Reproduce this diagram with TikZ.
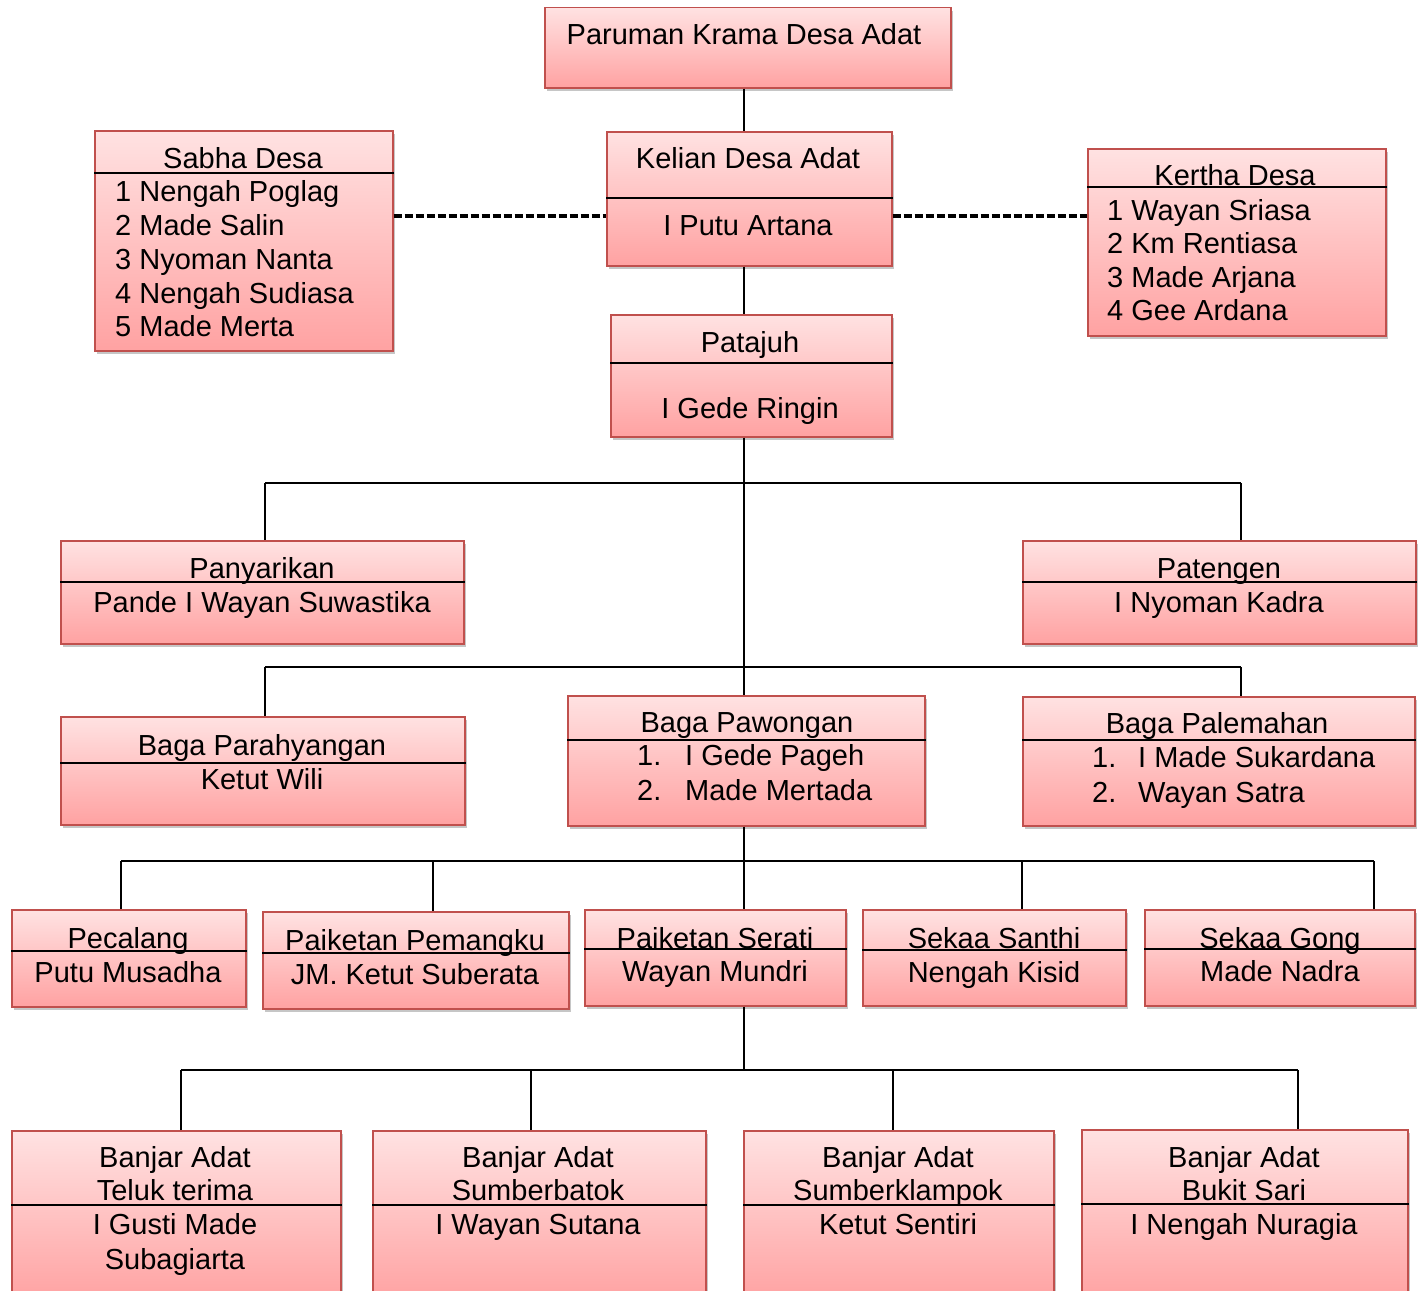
\documentclass[tikz,border=0pt]{standalone}
\usepackage{fontspec}
\setmainfont{Liberation Sans}
\usetikzlibrary{shadows}

\definecolor{boxline}{RGB}{192,80,77}
\definecolor{boxtop}{RGB}{255,226,226}
\definecolor{boxbottom}{RGB}{255,162,162}

\begin{document}
\begin{tikzpicture}[x=1pt,y=-1pt,
  box/.style={draw=boxline, line width=1.5pt, top color=boxtop, bottom color=boxbottom,
    anchor=north west, inner sep=0pt,
    drop shadow={shadow xshift=2.5pt, shadow yshift=-3.5pt, opacity=0.45}},
  boxtext/.style={anchor=base, inner sep=0pt, font=\fontsize{29}{34}\selectfont},
  listitem/.style={boxtext, anchor=base west},
  sepline/.style={line width=1.3pt},
  link/.style={line width=1.8pt},
  dashlink/.style={line width=3.5pt, dash pattern=on 8pt off 3pt}]
\useasboundingbox (0,0) rectangle (1420,1290);

% boxes
\node[box, minimum width=406pt, minimum height=80pt] (paruman) at (544,7) {};
\node[box, minimum width=285pt, minimum height=134pt] (kelian) at (606,131) {};
\node[box, minimum width=298pt, minimum height=220pt] (sabha) at (94,130) {};
\node[box, minimum width=298pt, minimum height=187pt] (kertha) at (1087,148) {};
\node[box, minimum width=281pt, minimum height=122pt] (patajuh) at (610,314) {};
\node[box, minimum width=403pt, minimum height=103pt] (panyarikan) at (60,540) {};
\node[box, minimum width=393pt, minimum height=103pt] (patengen) at (1022,540) {};
\node[box, minimum width=404pt, minimum height=108pt] (parahyangan) at (60,716) {};
\node[box, minimum width=357pt, minimum height=130pt] (pawongan) at (567,695) {};
\node[box, minimum width=392pt, minimum height=129pt] (palemahan) at (1022,696) {};
\node[box, minimum width=234pt, minimum height=97pt] (pecalang) at (11,909) {};
\node[box, minimum width=306pt, minimum height=97pt] (pemangku) at (262,911) {};
\node[box, minimum width=261pt, minimum height=96pt] (serati) at (584,909) {};
\node[box, minimum width=263pt, minimum height=96pt] (santhi) at (862,909) {};
\node[box, minimum width=270pt, minimum height=96pt] (gong) at (1144,909) {};
\node[box, minimum width=329pt, minimum height=170pt] (banjarA) at (11,1130) {};
\node[box, minimum width=333pt, minimum height=170pt] (banjarB) at (372,1130) {};
\node[box, minimum width=310pt, minimum height=170pt] (banjarC) at (743,1130) {};
\node[box, minimum width=326pt, minimum height=171pt] (banjarD) at (1081,1129) {};

% dividers
\foreach \n/\yy in {kelian/198, sabha/173, kertha/187, patajuh/363, panyarikan/582,
  patengen/582, parahyangan/763, pawongan/740, palemahan/740, pecalang/951,
  pemangku/953, serati/949, santhi/950, gong/949, banjarA/1205, banjarB/1205,
  banjarC/1205, banjarD/1204}
  \draw[sepline] (\n.west |- 0,\yy) -- (\n.east |- 0,\yy);

% texts
\node[boxtext] (parumanT) at (744,45) {Paruman Krama Desa Adat};
\node[boxtext] (kelianT) at (748,168) {Kelian Desa Adat};
\node[boxtext] (kelianN) at (748,235) {I Putu Artana};
\node[boxtext] (sabhaT) at (243,168) {Sabha Desa};
\foreach \t [count=\i] in {1 Nengah Poglag, 2 Made Salin, 3 Nyoman Nanta, 4 Nengah Sudiasa, 5 Made Merta}
  \node[listitem] (sabha\i) at (115,168+33.75*\i) {\t};
\node[boxtext] (kerthaT) at (1235,185) {Kertha Desa};
\foreach \t [count=\i] in {1 Wayan Sriasa, 2 Km Rentiasa, 3 Made Arjana, 4 Gee Ardana}
  \node[listitem] (kertha\i) at (1107,186.5+33.5*\i) {\t};
\node[boxtext] (patajuhT) at (750,352) {Patajuh};
\node[boxtext] (patajuhN) at (750,418) {I Gede Ringin};
\node[boxtext] (panyarikanT) at (262,578) {Panyarikan};
\node[boxtext] (panyarikanN) at (262,612) {Pande I Wayan Suwastika};
\node[boxtext] (patengenT) at (1219,578) {Patengen};
\node[boxtext] (patengenN) at (1219,612) {I Nyoman Kadra};
\node[boxtext] (parahyanganT) at (262,755) {Baga Parahyangan};
\node[boxtext] (parahyanganN) at (262,789) {Ketut Wili};
\node[boxtext] (pawonganT) at (747,732) {Baga Pawongan};
\foreach \t [count=\i] in {I Gede Pageh, Made Mertada} {
  \node[listitem] (pawonganN\i) at (637,730+35*\i) {\i.};
  \node[listitem] (pawongan\i) at (685,730+35*\i) {\t};
}
\node[boxtext] (palemahanT) at (1217,733) {Baga Palemahan};
\foreach \t [count=\i] in {I Made Sukardana, Wayan Satra} {
  \node[listitem] (palemahanN\i) at (1092,732+35*\i) {\i.};
  \node[listitem] (palemahan\i) at (1138,732+35*\i) {\t};
}
\node[boxtext] (pecalangT) at (128,948) {Pecalang};
\node[boxtext] (pecalangN) at (128,982) {Putu Musadha};
\node[boxtext] (pemangkuT) at (415,950) {Paiketan Pemangku};
\node[boxtext] (pemangkuN) at (415,984) {JM. Ketut Suberata};
\node[boxtext] (seratiT) at (715,948) {Paiketan Serati};
\node[boxtext] (seratiN) at (715,981) {Wayan Mundri};
\node[boxtext] (santhiT) at (994,948) {Sekaa Santhi};
\node[boxtext] (santhiN) at (994,982) {Nengah Kisid};
\node[boxtext] (gongT) at (1280,948) {Sekaa Gong};
\node[boxtext] (gongN) at (1280,981) {Made Nadra};
\foreach \xx/\n/\a/\b/\c/\d in {175/banjarA/Banjar Adat/Teluk terima/I Gusti Made/Subagiarta,
  538/banjarB/Banjar Adat/Sumberbatok/I Wayan Sutana/,
  898/banjarC/Banjar Adat/Sumberklampok/Ketut Sentiri/,
  1244/banjarD/Banjar Adat/Bukit Sari/I Nengah Nuragia/} {
  \node[boxtext] (\n1) at (\xx,1167) {\a};
  \node[boxtext] (\n2) at (\xx,1200) {\b};
  \node[boxtext] (\n3) at (\xx,1234) {\c};
  \node[boxtext] (\n4) at (\xx,1269) {\d};
}

% connectors
\coordinate (spine) at (744,0);
\coordinate (dashrow) at (0,216);
\draw[link] (spine |- paruman.south) -- (spine |- kelian.north);
\draw[link] (spine |- kelian.south) -- (spine |- patajuh.north);
\draw[link] (spine |- patajuh.south) -- (spine |- pawongan.north);
\draw[link] (spine |- pawongan.south) -- (spine |- serati.north);
\draw[dashlink] (sabha.east |- dashrow) -- (kelian.west |- dashrow);
\draw[dashlink] (kelian.east |- dashrow) -- (kertha.west |- dashrow);

\coordinate (busA1) at (265,483); \coordinate (busA2) at (1241,483);
\draw[link] (busA1) -- (busA2);
\draw[link] (busA1) -- (busA1 |- panyarikan.north);
\draw[link] (busA2) -- (busA2 |- patengen.north);
\coordinate (busB1) at (265,667); \coordinate (busB2) at (1241,667);
\draw[link] (busB1) -- (busB2);
\draw[link] (busB1) -- (busB1 |- parahyangan.north);
\draw[link] (busB2) -- (busB2 |- palemahan.north);
\coordinate (busC1) at (121,861); \coordinate (busC2) at (1374,861);
\draw[link] (busC1) -- (busC2);
\foreach \xx/\n in {121/pecalang, 433/pemangku, 1022/santhi, 1374/gong} {
  \coordinate (tap\n) at (\xx,861);
  \draw[link] (tap\n) -- (tap\n |- \n.north);
}
\coordinate (busD1) at (181,1070); \coordinate (busD2) at (1298,1070);
\draw[link] (busD1) -- (busD2);
\draw[link] (spine |- serati.south) -- (spine |- busD1);
\foreach \xx/\n in {181/banjarA, 531/banjarB, 893/banjarC, 1298/banjarD} {
  \coordinate (tap\n) at (\xx,1070);
  \draw[link] (tap\n) -- (tap\n |- \n.north);
}
\end{tikzpicture}
\end{document}
